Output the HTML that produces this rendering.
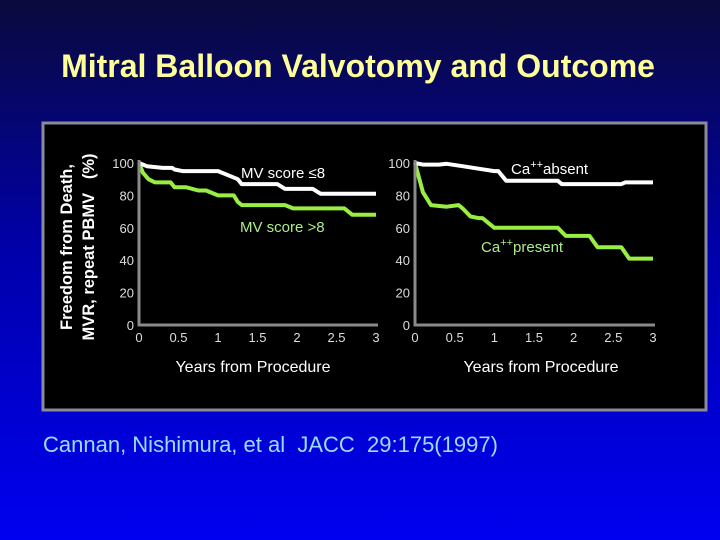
<!DOCTYPE html>
<html><head><meta charset="utf-8"><style>
html,body{margin:0;padding:0;width:720px;height:540px;overflow:hidden}
svg{display:block;font-family:"Liberation Sans",sans-serif}
</style></head><body>
<svg id="svg" width="720" height="540" viewBox="0 0 720 540">
<defs><linearGradient id="bg" x1="0" y1="0" x2="0" y2="1">
<stop offset="0" stop-color="#0a0a3c"/><stop offset="0.45" stop-color="#0000a8"/><stop offset="1" stop-color="#0000f0"/></linearGradient></defs>
<rect width="720" height="540" fill="url(#bg)"/>
<text x="358" y="77" text-anchor="middle" font-size="32" font-weight="bold" fill="#ffff99">Mitral Balloon Valvotomy and Outcome</text>
<rect x="43" y="123" width="663" height="287" fill="#000" stroke="#8a8a9a" stroke-width="3"/>
<text transform="translate(72,247) rotate(-90)" text-anchor="middle" font-size="16.5" font-weight="bold" fill="#fff">Freedom from Death,</text>
<text transform="translate(94,247) rotate(-90)" text-anchor="middle" font-size="16.5" font-weight="bold" fill="#fff" style="white-space:pre">MVR, repeat PBMV   (%)</text>
<g id="charts"></g>
<text x="43" y="452" font-size="22" fill="#99ddff" style="white-space:pre">Cannan, Nishimura, et al  JACC  29:175(1997)</text>
</svg>
<script>
const xTicks=[0,0.5,1,1.5,2,2.5,3];
const xTickLabels=["0","0.5","1","1.5","2","2.5","3"];
const yTicks=[0,20,40,60,80,100];
const yTickLabels=["0","20","40","60","80","100"];
const leftWhiteX=[0,0.1,0.3,0.42,0.45,0.55,1.0,1.1,1.25,1.3,1.75,1.85,2.2,2.3,3];
const leftWhiteY=[100,98,97,97,96,95,95,93,90,87,87,84,84,81,81];
const leftGreenX=[0,0.05,0.12,0.2,0.4,0.45,0.6,0.75,0.85,1.0,1.2,1.25,1.3,1.85,1.95,2.6,2.7,3];
const leftGreenY=[100,94,90,88,88,85,85,83,83,80,80,76,74,74,72,72,68,68];
const rightWhiteX=[0,0.1,0.3,0.4,0.6,0.8,1.0,1.05,1.15,1.8,1.85,2.6,2.65,3];
const rightWhiteY=[100,99,99,99.5,98,96.5,95,95,89,89,87,87,88,88];
const rightGreenX=[0,0.1,0.2,0.4,0.55,0.6,0.7,0.8,0.85,1.0,1.8,1.9,2.2,2.3,2.6,2.7,3];
const rightGreenY=[100,82,74,73,74,72,67,66,66,60,60,55,55,48,48,41,41];
const NS="http://www.w3.org/2000/svg";
const root=document.getElementById('charts');
function mk(tag,attrs,parent){const e=document.createElementNS(NS,tag);for(const k in attrs)e.setAttribute(k,attrs[k]);parent.appendChild(e);return e;}
function chart(id,x0,x1,y0,y1,series,labels,xtitle,xtx){
  const g=mk('g',{},root);
  
  
  const sx=v=>x0+(v/3)*(x1-x0), sy=v=>y0-(v/100)*(y0-y1);
  yTicks.forEach((t,i)=>{const tx=mk('text',{x:x0-5,y:sy(t)+5,'text-anchor':'end','font-size':13,fill:'#ddd'},g);tx.textContent=yTickLabels[i];
    
    });
  xTicks.forEach((t,i)=>{const tx=mk('text',{x:sx(t),y:y0+17,'text-anchor':'middle','font-size':13,fill:'#ddd'},g);tx.textContent=xTickLabels[i];
    
    });
  series.forEach(s=>{let d='';s.x.forEach((v,i)=>{d+=(i?'L':'M')+sx(v).toFixed(1)+' '+sy(s.y[i]).toFixed(1)});
    const p=mk('path',{d:d,fill:'none',stroke:s.c,'stroke-width':4,'stroke-linejoin':'round'},g);
    
    });
  const ax=mk('path',{d:`M${x0} ${y1-3}L${x0} ${y0}L${x1+2} ${y0}`,fill:'none',stroke:'#8a8a8a','stroke-width':3},g);
  
  
  labels.forEach(l=>{const t=mk('text',{x:l.x,y:l.y,'font-size':15,fill:l.c},g);t.innerHTML=l.h;
    
    });
  const xt=mk('text',{x:xtx,y:y0+47,'text-anchor':'middle','font-size':16,fill:'#fff'},g);xt.textContent=xtitle;
  
  
}
chart('mv-score-chart',139,376,325,163,
 [{x:leftGreenX,y:leftGreenY,c:'#99ee44',n:'mv-score-gt8-line'},{x:leftWhiteX,y:leftWhiteY,c:'#fff',n:'mv-score-le8-line'}],
 [{x:241,y:178,c:'#fff',h:'MV score ≤8',n:'mv-score-le8-label'},{x:240,y:232,c:'#aaee88',h:'MV score &gt;8',n:'mv-score-gt8-label'}],
 'Years from Procedure',253);
chart('calcium-chart',415,653,325,163,
 [{x:rightGreenX,y:rightGreenY,c:'#99ee44',n:'ca-present-line'},{x:rightWhiteX,y:rightWhiteY,c:'#fff',n:'ca-absent-line'}],
 [{x:511,y:174,c:'#fff',h:'Ca<tspan dy="-6" font-size="11">++</tspan><tspan dy="6">absent</tspan>',n:'ca-absent-label'},{x:481,y:252,c:'#aaee88',h:'Ca<tspan dy="-6" font-size="11">++</tspan><tspan dy="6">present</tspan>',n:'ca-present-label'}],
 'Years from Procedure',541);
</script>
</body></html>
